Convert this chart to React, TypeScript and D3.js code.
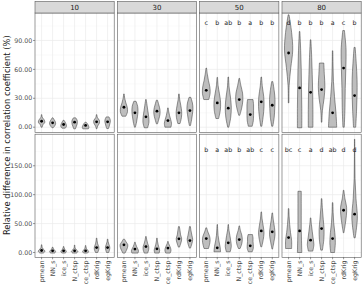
import React from 'react'
import * as d3 from 'd3'

const methods = ['pmean', 'NN_s', 'ice_s', 'N_ctsp', 'ce_ctsp', 'rdKrig', 'egKrig']
const facets = ['10', '30', '50', '80']

const upperTicks = [0, 30, 60, 90]
const lowerTicks = [0, 50, 100, 150]

// [min, max, median, widths from min up to max as a share of one category step]
type Violin = [number, number, number, number[]]

const upper10: Violin[] = [
  [0, 13, 6.2, [0.1, 0.25, 0.6, 0.45, 0.12, 0.05]],
  [-0.6, 9.7, 4.5, [0.1, 0.4, 0.55, 0.5, 0.3, 0.08]],
  [-1, 7.2, 2.8, [0.3, 0.5, 0.5, 0.4, 0.25, 0.08]],
  [-1.7, 9.7, 5.2, [0.15, 0.3, 0.45, 0.5, 0.45, 0.2]],
  [-1.7, 5.2, 1.8, [0.5, 0.6, 0.55, 0.45, 0.3, 0.1]],
  [-1.7, 13, 5.6, [0.05, 0.2, 0.5, 0.5, 0.15, 0.05]],
  [-1.4, 10.7, 5.6, [0.15, 0.3, 0.4, 0.5, 0.45, 0.25]],
]
const upper30: Violin[] = [
  [11.4, 34.5, 20.7, [0.35, 0.65, 0.6, 0.35, 0.15, 0.05]],
  [0, 26.9, 14.9, [0.08, 0.3, 0.45, 0.55, 0.5, 0.2]],
  [-0.6, 28.7, 10.8, [0.3, 0.55, 0.5, 0.35, 0.2, 0.05]],
  [3.5, 28, 16.6, [0.1, 0.35, 0.55, 0.55, 0.35, 0.1]],
  [0, 20, 6.9, [0.55, 0.65, 0.5, 0.3, 0.15, 0.05]],
  [3.8, 34.5, 14.9, [0.2, 0.45, 0.5, 0.35, 0.15, 0.05]],
  [1.8, 31, 17.3, [0.1, 0.3, 0.45, 0.55, 0.45, 0.15]],
]
const upper50: Violin[] = [
  [28.7, 61.4, 38.3, [0.45, 0.7, 0.65, 0.4, 0.2, 0.05]],
  [9, 51.7, 25.2, [0.25, 0.55, 0.6, 0.4, 0.15, 0.05]],
  [0, 52.1, 19.7, [0.1, 0.45, 0.55, 0.4, 0.15, 0.05]],
  [12.4, 50.7, 28.7, [0.1, 0.45, 0.65, 0.6, 0.3, 0.05]],
  [1, 28.7, 13.1, [0.35, 0.55, 0.6, 0.6, 0.6, 0.5]],
  [1, 52.1, 26.3, [0.1, 0.35, 0.5, 0.45, 0.2, 0.05]],
  [1, 47.3, 22.8, [0.1, 0.35, 0.45, 0.5, 0.35, 0.1]],
]
const upper80: Violin[] = [
  [25.2, 116.6, 77, [0.05, 0.1, 0.4, 0.75, 0.55, 0.08]],
  [-0.6, 99.3, 40.8, [0.4, 0.4, 0.35, 0.3, 0.2, 0.05]],
  [0, 90.7, 36.2, [0.42, 0.42, 0.38, 0.3, 0.2, 0.05]],
  [5.2, 66.6, 39, [0.05, 0.15, 0.45, 0.6, 0.5, 0.4]],
  [0, 79.3, 14.9, [0.75, 0.6, 0.35, 0.15, 0.08, 0.04]],
  [0, 100.3, 61.4, [0.12, 0.25, 0.3, 0.4, 0.45, 0.15]],
  [0, 82.8, 32.8, [0.2, 0.35, 0.45, 0.45, 0.3, 0.1]],
]

const lower10: Violin[] = [
  [-1, 13.3, 3.5, [0.3, 0.6, 0.45, 0.15, 0.08, 0.05]],
  [-1, 9.3, 2.9, [0.35, 0.55, 0.45, 0.25, 0.12, 0.05]],
  [-1, 10.3, 2.9, [0.3, 0.5, 0.4, 0.2, 0.1, 0.05]],
  [-1, 12.8, 2.9, [0.35, 0.6, 0.35, 0.12, 0.06, 0.04]],
  [-1, 12.1, 2.9, [0.35, 0.55, 0.35, 0.15, 0.08, 0.04]],
  [0, 24.8, 8.6, [0.2, 0.4, 0.4, 0.2, 0.1, 0.05]],
  [0, 23.1, 8.6, [0.2, 0.35, 0.4, 0.25, 0.1, 0.05]],
]
const lower30: Violin[] = [
  [-1, 23.1, 13.3, [0.2, 0.45, 0.65, 0.7, 0.4, 0.1]],
  [-1, 17.9, 5.9, [0.55, 0.65, 0.5, 0.3, 0.15, 0.05]],
  [-1, 27.6, 10.3, [0.3, 0.5, 0.5, 0.3, 0.15, 0.05]],
  [-1, 24.8, 6.4, [0.4, 0.5, 0.35, 0.2, 0.1, 0.05]],
  [-1, 19, 7.6, [0.4, 0.55, 0.5, 0.35, 0.15, 0.05]],
  [9.3, 44.8, 23.6, [0.1, 0.35, 0.5, 0.3, 0.2, 0.08]],
  [7.6, 44.8, 20.7, [0.1, 0.35, 0.5, 0.35, 0.2, 0.08]],
]
const lower50: Violin[] = [
  [6.9, 42.6, 24.1, [0.4, 0.6, 0.7, 0.6, 0.3, 0.08]],
  [1.2, 48.3, 8.1, [0.6, 0.5, 0.3, 0.15, 0.08, 0.04]],
  [1.2, 48.3, 16.7, [0.35, 0.55, 0.45, 0.3, 0.12, 0.04]],
  [6.9, 46, 22.4, [0.15, 0.45, 0.55, 0.45, 0.2, 0.05]],
  [1.2, 31, 11.6, [0.35, 0.55, 0.55, 0.5, 0.5, 0.4]],
  [9.8, 70.2, 37.4, [0.08, 0.35, 0.5, 0.35, 0.15, 0.05]],
  [5.9, 68.4, 35.7, [0.05, 0.3, 0.5, 0.4, 0.2, 0.05]],
]
const lower80: Violin[] = [
  [6.9, 75.9, 25.9, [0.55, 0.55, 0.35, 0.2, 0.1, 0.05]],
  [0, 105.9, 37.4, [0.4, 0.35, 0.3, 0.3, 0.3, 0.3]],
  [2.4, 59.8, 21.4, [0.4, 0.6, 0.45, 0.3, 0.15, 0.05]],
  [4.1, 93.1, 41.4, [0.15, 0.4, 0.45, 0.3, 0.15, 0.05]],
  [0, 86.2, 24.1, [0.35, 0.5, 0.4, 0.2, 0.1, 0.05]],
  [34, 107.6, 73.1, [0.05, 0.3, 0.5, 0.55, 0.25, 0.05]],
  [25.3, 196, 66.2, [0.1, 0.5, 0.25, 0.08, 0.04, 0.03]],
]

// compact letter display of the pairwise tests
const upperLetters50 = ['c', 'b', 'ab', 'b', 'a', 'b', 'b']
const upperLetters80 = ['d', 'b', 'b', 'b', 'a', 'c', 'b']
const lowerLetters50 = ['b', 'a', 'ab', 'b', 'ab', 'c', 'c']
const lowerLetters80 = ['bc', 'c', 'a', 'd', 'ab', 'd', 'd']

const W = 362
const H = 284
const font = '"DejaVu Sans", sans-serif'

const rows = [
  {
    panels: [upper10, upper30, upper50, upper80],
    letters: [null, null, upperLetters50, upperLetters80],
    ticks: upperTicks,
    y: d3.scaleLinear().domain([-5.6, 118.5]).range([132.6, 13]),
    letterAt: 108,
  },
  {
    panels: [lower10, lower30, lower50, lower80],
    letters: [null, null, lowerLetters50, lowerLetters80],
    ticks: lowerTicks,
    y: d3.scaleLinear().domain([-8.3, 204.6]).range([257.3, 134.2]),
    letterAt: 178,
  },
]

const fx = d3.scaleBand<string>().domain(facets).range([35, 361.2]).paddingInner(0.038)
const bw = fx.bandwidth()
const x = d3.scalePoint<string>().domain(methods).range([0, bw]).padding(0.6)
const step = x.step()
const fmt = d3.format('.2f')

const ViolinShape = ({ v, cx, y }: { v: Violin; cx: number; y: d3.ScaleLinear<number, number> }) => {
  const [lo, hi, , w] = v
  const pts = w.map((s, i) => [lo + ((hi - lo) * i) / (w.length - 1), s] as [number, number])
  const area = d3
    .area<[number, number]>()
    .y((d) => y(d[0]))
    .x0((d) => cx - (d[1] * step) / 2)
    .x1((d) => cx + (d[1] * step) / 2)
    .curve(d3.curveCatmullRom.alpha(0.5))
  return <path d={area(pts) ?? ''} fill="#BEBEBE" stroke="#333" strokeWidth={0.5} />
}

export default function App() {
  return (
    <svg
      width={W}
      height={H}
      viewBox={`0 0 ${W} ${H}`}
      style={{ position: 'absolute', left: 0, top: 0, background: '#fff' }}
      fontFamily={font}
    >
      {rows.map((row, ri) => {
        const [y0, y1] = row.y.range()
        const d = row.ticks[1] - row.ticks[0]
        const minor = row.ticks.map((t) => t + d / 2).filter((t) => row.y(t) > y1)
        return (
          <g key={ri}>
            {/* y axis */}
            {row.ticks.map((t) => (
              <g key={t} transform={`translate(35,${row.y(t)})`}>
                <line x1={-2} x2={0} stroke="#333" strokeWidth={0.5} />
                <text x={-2.8} dy="0.34em" textAnchor="end" fontSize={6.3} fill="#4D4D4D">
                  {fmt(t)}
                </text>
              </g>
            ))}
            {facets.map((f, fi) => {
              const px = fx(f)!
              const letters = row.letters[fi]
              return (
                <g key={f} transform={`translate(${px},0)`}>
                  <rect x={0} y={y1} width={bw} height={y0 - y1} fill="#fff" />
                  {minor.map((t) => (
                    <line key={'m' + t} x1={0} x2={bw} y1={row.y(t)} y2={row.y(t)} stroke="#F2F2F2" strokeWidth={0.4} />
                  ))}
                  {row.ticks.map((t) => (
                    <line key={t} x1={0} x2={bw} y1={row.y(t)} y2={row.y(t)} stroke="#EBEBEB" strokeWidth={0.7} />
                  ))}
                  {methods.map((m) => (
                    <line key={m} x1={x(m)} x2={x(m)} y1={y1} y2={y0} stroke="#EBEBEB" strokeWidth={0.7} />
                  ))}
                  {row.panels[fi].map((v, i) => (
                    <ViolinShape key={i} v={v} cx={x(methods[i])!} y={row.y} />
                  ))}
                  {row.panels[fi].map((v, i) => (
                    <circle key={'c' + i} cx={x(methods[i])} cy={row.y(v[2])} r={1.4} fill="#000" />
                  ))}
                  {letters &&
                    letters.map((l, i) => (
                      <text
                        key={'l' + i}
                        x={x(methods[i])}
                        y={row.y(row.letterAt)}
                        dy="0.35em"
                        textAnchor="middle"
                        fontSize={6.3}
                        fill="#1A1A1A"
                      >
                        {l}
                      </text>
                    ))}
                  <rect x={0} y={y1} width={bw} height={y0 - y1} fill="none" stroke="#595959" strokeWidth={0.6} />
                  {ri === 0 && (
                    <g>
                      <rect x={0} y={1.5} width={bw} height={11.5} fill="#D9D9D9" stroke="#595959" strokeWidth={0.6} />
                      <text x={bw / 2} y={7.3} dy="0.35em" textAnchor="middle" fontSize={7} fill="#1A1A1A">
                        {f}
                      </text>
                    </g>
                  )}
                  {ri === 1 &&
                    methods.map((m) => (
                      <g key={'x' + m} transform={`translate(${x(m)},${y0})`}>
                        <line y1={0} y2={2} stroke="#333" strokeWidth={0.5} />
                        <text
                          transform="translate(0,3.2) rotate(-90)"
                          dy="0.34em"
                          textAnchor="end"
                          fontSize={6.3}
                          fill="#4D4D4D"
                        >
                          {m}
                        </text>
                      </g>
                    ))}
                </g>
              )
            })}
          </g>
        )
      })}
      <text
        transform={`translate(9.5,${(13 + 257.3) / 2}) rotate(-90)`}
        textAnchor="middle"
        fontSize={8.4}
        fill="#1A1A1A"
      >
        Relative difference in correlation coefficient (%)
      </text>
    </svg>
  )
}
